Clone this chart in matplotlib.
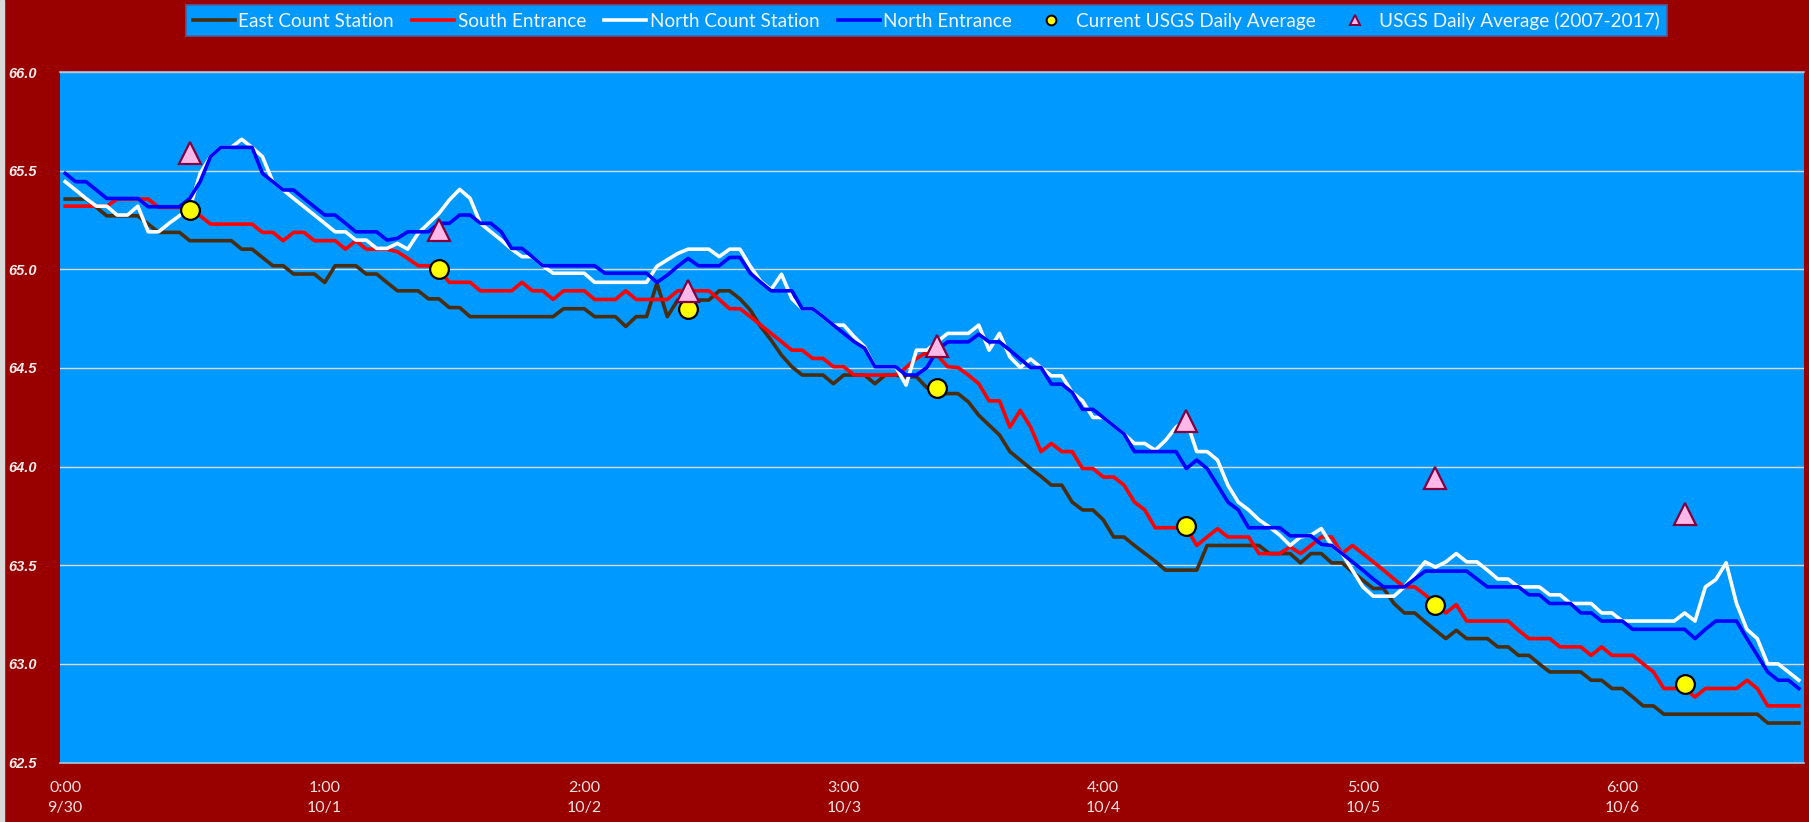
import numpy as np
import matplotlib
matplotlib.use('Agg')
import matplotlib.pyplot as plt
from matplotlib.lines import Line2D
from matplotlib.patches import Rectangle


# Hourly readings, 168 hours (7 days)

east = [
    65.356, 65.356, 65.356, 65.314, 65.271, 65.271, 65.271, 65.271, 65.229, 65.187,
    65.187, 65.187, 65.145, 65.145, 65.145, 65.145, 65.145, 65.102, 65.102, 65.060,
    65.018, 65.018, 64.976, 64.976, 64.976, 64.933, 65.018, 65.018, 65.018, 64.976,
    64.976, 64.933, 64.891, 64.891, 64.891, 64.850, 64.850, 64.806, 64.806, 64.760,
    64.760, 64.760, 64.760, 64.760, 64.760, 64.760, 64.760, 64.760, 64.800, 64.800,
    64.800, 64.760, 64.760, 64.760, 64.710, 64.760, 64.760, 64.930, 64.760, 64.844,
    64.844, 64.844, 64.844, 64.891, 64.891, 64.850, 64.793, 64.709, 64.641, 64.565,
    64.506, 64.464, 64.464, 64.464, 64.420, 64.464, 64.464, 64.464, 64.420, 64.464,
    64.464, 64.455, 64.455, 64.400, 64.370, 64.370, 64.370, 64.328, 64.260, 64.210,
    64.160, 64.076, 64.033, 63.990, 63.950, 63.906, 63.906, 63.820, 63.780, 63.780,
    63.730, 63.643, 63.643, 63.600, 63.560, 63.520, 63.475, 63.475, 63.475, 63.475,
    63.600, 63.600, 63.600, 63.600, 63.600, 63.600, 63.559, 63.559, 63.559, 63.512,
    63.559, 63.559, 63.512, 63.512, 63.466, 63.424, 63.382, 63.382, 63.306, 63.258,
    63.258, 63.213, 63.170, 63.128, 63.170, 63.128, 63.128, 63.128, 63.086, 63.086,
    63.043, 63.043, 63.000, 62.959, 62.959, 62.959, 62.959, 62.917, 62.917, 62.875,
    62.875, 62.832, 62.787, 62.787, 62.745, 62.745, 62.745, 62.745, 62.745, 62.745,
    62.745, 62.745, 62.745, 62.745, 62.700, 62.700, 62.700, 62.700]

south = [
    65.320, 65.320, 65.320, 65.320, 65.320, 65.356, 65.356, 65.356, 65.356, 65.314,
    65.314, 65.314, 65.292, 65.271, 65.229, 65.229, 65.229, 65.229, 65.229, 65.187,
    65.187, 65.145, 65.187, 65.187, 65.145, 65.145, 65.145, 65.102, 65.145, 65.102,
    65.102, 65.102, 65.089, 65.055, 65.018, 65.018, 64.997, 64.934, 64.934, 64.934,
    64.891, 64.891, 64.891, 64.891, 64.934, 64.891, 64.891, 64.847, 64.891, 64.891,
    64.891, 64.847, 64.847, 64.847, 64.891, 64.847, 64.847, 64.847, 64.847, 64.891,
    64.891, 64.891, 64.891, 64.847, 64.800, 64.800, 64.760, 64.717, 64.675, 64.633,
    64.590, 64.590, 64.548, 64.548, 64.506, 64.506, 64.464, 64.464, 64.464, 64.464,
    64.464, 64.502, 64.548, 64.580, 64.565, 64.506, 64.502, 64.464, 64.420, 64.333,
    64.333, 64.200, 64.285, 64.200, 64.076, 64.117, 64.076, 64.076, 63.990, 63.990,
    63.947, 63.947, 63.906, 63.820, 63.780, 63.690, 63.690, 63.690, 63.690, 63.600,
    63.643, 63.685, 63.643, 63.643, 63.643, 63.559, 63.559, 63.559, 63.593, 63.559,
    63.600, 63.643, 63.643, 63.559, 63.600, 63.559, 63.517, 63.475, 63.430, 63.390,
    63.390, 63.350, 63.306, 63.258, 63.300, 63.217, 63.217, 63.217, 63.217, 63.217,
    63.170, 63.128, 63.128, 63.128, 63.086, 63.086, 63.086, 63.043, 63.086, 63.043,
    63.043, 63.043, 63.000, 62.959, 62.875, 62.875, 62.875, 62.832, 62.875, 62.875,
    62.875, 62.875, 62.917, 62.875, 62.787, 62.787, 62.787, 62.787]

north_count = [
    65.444, 65.402, 65.359, 65.320, 65.320, 65.275, 65.275, 65.320, 65.190, 65.190,
    65.233, 65.271, 65.310, 65.486, 65.571, 65.618, 65.618, 65.659, 65.618, 65.571,
    65.444, 65.402, 65.359, 65.317, 65.275, 65.233, 65.190, 65.190, 65.148, 65.148,
    65.106, 65.106, 65.131, 65.102, 65.182, 65.233, 65.283, 65.351, 65.405, 65.360,
    65.233, 65.190, 65.148, 65.102, 65.064, 65.064, 65.018, 64.980, 64.980, 64.980,
    64.980, 64.934, 64.934, 64.934, 64.934, 64.934, 64.934, 65.015, 65.048, 65.080,
    65.102, 65.102, 65.102, 65.064, 65.102, 65.102, 65.015, 64.939, 64.897, 64.975,
    64.851, 64.800, 64.800, 64.760, 64.717, 64.717, 64.658, 64.607, 64.506, 64.506,
    64.506, 64.413, 64.590, 64.590, 64.632, 64.675, 64.675, 64.675, 64.717, 64.590,
    64.675, 64.556, 64.502, 64.545, 64.502, 64.460, 64.460, 64.376, 64.333, 64.249,
    64.249, 64.207, 64.165, 64.117, 64.117, 64.083, 64.133, 64.200, 64.235, 64.076,
    64.076, 64.033, 63.906, 63.820, 63.780, 63.730, 63.694, 63.652, 63.600, 63.643,
    63.652, 63.686, 63.600, 63.559, 63.475, 63.390, 63.343, 63.343, 63.343, 63.390,
    63.455, 63.517, 63.490, 63.517, 63.559, 63.517, 63.517, 63.475, 63.430, 63.430,
    63.390, 63.390, 63.390, 63.350, 63.350, 63.306, 63.306, 63.306, 63.258, 63.258,
    63.217, 63.217, 63.217, 63.217, 63.217, 63.217, 63.258, 63.217, 63.390, 63.427,
    63.512, 63.306, 63.175, 63.128, 63.000, 63.000, 62.959, 62.917]

north_entrance = [
    65.486, 65.444, 65.444, 65.402, 65.359, 65.359, 65.359, 65.359, 65.317, 65.317,
    65.317, 65.317, 65.359, 65.444, 65.571, 65.618, 65.618, 65.618, 65.618, 65.486,
    65.444, 65.402, 65.402, 65.359, 65.317, 65.275, 65.275, 65.233, 65.190, 65.190,
    65.190, 65.148, 65.157, 65.190, 65.190, 65.190, 65.233, 65.233, 65.275, 65.275,
    65.233, 65.233, 65.190, 65.106, 65.106, 65.064, 65.018, 65.018, 65.018, 65.018,
    65.018, 65.018, 64.980, 64.980, 64.980, 64.980, 64.980, 64.934, 64.970, 65.015,
    65.055, 65.018, 65.018, 65.018, 65.060, 65.060, 64.980, 64.934, 64.891, 64.891,
    64.891, 64.800, 64.800, 64.760, 64.717, 64.675, 64.633, 64.600, 64.506, 64.506,
    64.506, 64.464, 64.464, 64.502, 64.590, 64.632, 64.632, 64.632, 64.671, 64.632,
    64.632, 64.590, 64.545, 64.502, 64.502, 64.418, 64.418, 64.376, 64.290, 64.290,
    64.249, 64.207, 64.165, 64.076, 64.076, 64.076, 64.076, 64.076, 63.990, 64.033,
    63.990, 63.906, 63.820, 63.780, 63.690, 63.690, 63.690, 63.690, 63.649, 63.649,
    63.649, 63.606, 63.600, 63.559, 63.517, 63.475, 63.430, 63.390, 63.390, 63.390,
    63.430, 63.470, 63.470, 63.470, 63.470, 63.470, 63.430, 63.390, 63.390, 63.390,
    63.390, 63.350, 63.350, 63.306, 63.306, 63.306, 63.258, 63.258, 63.217, 63.217,
    63.217, 63.175, 63.175, 63.175, 63.175, 63.175, 63.175, 63.128, 63.175, 63.217,
    63.217, 63.217, 63.128, 63.043, 62.959, 62.917, 62.917, 62.875]

# Daily averages, plotted at hour 12 of each day
avg_hours = [12, 36, 60, 84, 108, 132, 156]
usgs_current = [65.30, 65.00, 64.80, 64.40, 63.70, 63.30, 62.90]
usgs_history = [65.59, 65.20, 64.89, 64.61, 64.23, 63.94, 63.76]

# Category axis labels
tick_hours = [0, 25, 50, 75, 100, 125, 150]
tick_times = ['0:00', '1:00', '2:00', '3:00', '4:00', '5:00', '6:00']
tick_dates = ['9/30', '10/1', '10/2', '10/3', '10/4', '10/5', '10/6']


bg_red = '#990000'
plot_blue = '#0099FF'
font = ['Lato', 'Liberation Sans', 'DejaVu Sans']

fig = plt.figure(figsize=(18.09, 8.22), dpi=100, facecolor=bg_red)
fig.patches.append(Rectangle((0, 0), 4 / 1809, 1, transform=fig.transFigure,
                             color='#D9D9D9', zorder=0))

ax = fig.add_axes([60 / 1809, 59.5 / 822, 1744 / 1809, 690.5 / 822])
ax.set_facecolor(plot_blue)

x = np.arange(len(east))

ax.plot(x, east, color='#4A2C0E', lw=2.6, label='East Count Station', zorder=3)
ax.plot(x, south, color='#FF0000', lw=2.6, label='South Entrance', zorder=3)
ax.plot(x, north_count, color='#FFFFFF', lw=2.6, label='North Count Station', zorder=3)
ax.plot(x, north_entrance, color='#0000FF', lw=2.6, label='North Entrance', zorder=3)

ax.plot(avg_hours, usgs_current, linestyle='none', marker='o', ms=13.5,
        mfc='#FFFF00', mec='black', mew=1.6, zorder=5)
ax.plot(avg_hours, usgs_history, linestyle='none', marker='^', ms=15.5,
        mfc='#FFB8E8', mec='#800040', mew=1.6, zorder=5)

ax.set_xlim(-0.5, len(east) - 0.5)
ax.set_ylim(62.5, 66.0)

ax.set_yticks(np.arange(62.5, 66.01, 0.5))
ax.set_yticklabels(['{:.1f}'.format(v) for v in np.arange(62.5, 66.01, 0.5)],
                   fontsize=10.5, fontweight='bold', fontstyle='italic',
                   color='#F4ECEC', family=['Liberation Sans', 'DejaVu Sans'])

ax.set_xticks(tick_hours)
ax.set_xticklabels(['{}\n{}'.format(t, d) for t, d in zip(tick_times, tick_dates)],
                   fontsize=11.5, color='#F2E2E2', family=font, linespacing=1.55)

ax.tick_params(axis='both', length=0)
ax.tick_params(axis='y', pad=17)
ax.tick_params(axis='x', pad=13)

ax.grid(axis='y', color='#D9D9D9', lw=1.0, zorder=1)
ax.set_axisbelow(True)

for side in ['left', 'right']:
    ax.spines[side].set_visible(False)
for side in ['top', 'bottom']:
    ax.spines[side].set_color('#A9C4E0')
    ax.spines[side].set_linewidth(1.2)


# Legend
handles = [
    Line2D([], [], color='#4A2C0E', lw=2.6),
    Line2D([], [], color='#FF0000', lw=2.6),
    Line2D([], [], color='#FFFFFF', lw=2.6),
    Line2D([], [], color='#0000FF', lw=2.6),
    Line2D([], [], linestyle='none', marker='o', ms=7, mfc='#FFFF00', mec='black', mew=1.4),
    Line2D([], [], linestyle='none', marker='^', ms=7, mfc='#FFB8E8', mec='#800040', mew=1.4),
]
labels = ['East Count Station', 'South Entrance', 'North Count Station',
          'North Entrance', 'Current USGS Daily Average', 'USGS Daily Average (2007-2017)']

leg = fig.legend(handles, labels, loc='center', bbox_to_anchor=(926.5 / 1809, 1 - 20.5 / 822),
                 ncol=6, frameon=True, fancybox=False, framealpha=1,
                 facecolor=plot_blue, edgecolor='#4A5FA0',
                 handlelength=2.2, handletextpad=0.2, columnspacing=0.95,
                 borderpad=0.35, prop={'family': font, 'size': 13.7})
for t in leg.get_texts():
    t.set_color('#F4F4F4')
leg.get_frame().set_linewidth(1.2)

fig.savefig('out.png', dpi=100, facecolor=bg_red)
